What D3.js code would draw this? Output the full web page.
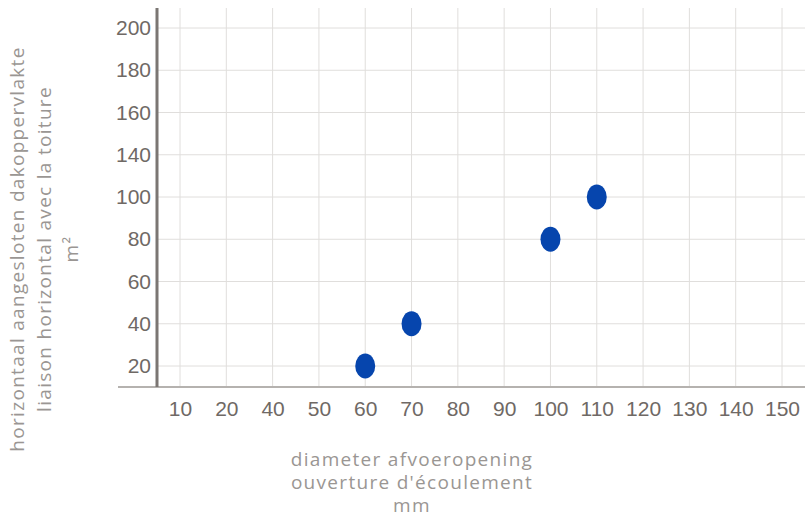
<!DOCTYPE html>
<html>
<head>
<meta charset="utf-8">
<script src="https://cdn.jsdelivr.net/npm/d3@7"></script>
<style>
  body { margin: 0; background: #fff; }
</style>
</head>
<body>
<div id="chart"></div>
<script>
// categories on both axes (the chart skips 30 and 120)
const xCategories = ['10', '20', '40', '50', '60', '70', '80', '90', '100', '110', '120', '130', '140', '150'];
const yCategories = ['20', '40', '60', '80', '100', '140', '160', '180', '200'];

// points: diameter (mm) -> surface (m²)
const diameters = ['60', '70', '100', '110'];
const surfaces = ['20', '40', '80', '100'];

const xTitle = ['diameter afvoeropening', "ouverture d'écoulement", 'mm'];
const yTitle = ['horizontaal aangesloten dakoppervlakte', 'liaison horizontal avec la toiture', 'm²'];

const width = 807, height = 519;
const plotLeft = 157, plotRight = 805, plotTop = 8, plotBottom = 387;

const svg = d3.select('#chart')
  .append('svg')
  .attr('width', width)
  .attr('height', height);

const x = d3.scalePoint()
  .domain(xCategories)
  .range([180, 782]);

const y = d3.scalePoint()
  .domain(yCategories)
  .range([366, 28]);

// gridlines
const grid = svg.append('g').attr('stroke', '#e0dedc').attr('stroke-width', 1);
grid.selectAll('.vgrid')
  .data(xCategories)
  .enter().append('line')
  .attr('x1', d => x(d)).attr('x2', d => x(d))
  .attr('y1', plotTop).attr('y2', plotBottom);
grid.selectAll('.hgrid')
  .data(yCategories)
  .enter().append('line')
  .attr('x1', plotLeft).attr('x2', plotRight)
  .attr('y1', d => y(d)).attr('y2', d => y(d));

// x axis
const xAxis = svg.append('g')
  .attr('transform', `translate(0, ${plotBottom})`)
  .call(d3.axisBottom(x).tickSize(0).tickPadding(14));
xAxis.select('.domain').remove();
xAxis.selectAll('text')
  .style('font-family', '"Liberation Sans", Arial, sans-serif')
  .style('font-size', '21px')
  .style('fill', '#6f6965');

svg.append('line')
  .attr('x1', 118).attr('x2', plotRight)
  .attr('y1', plotBottom).attr('y2', plotBottom)
  .attr('stroke', '#b5b2af').attr('stroke-width', 2);

// y axis
const yAxis = svg.append('g')
  .attr('transform', `translate(${plotLeft}, 0)`)
  .call(d3.axisLeft(y).tickSize(0).tickPadding(6));
yAxis.select('.domain').remove();
yAxis.selectAll('text')
  .style('font-family', '"Liberation Sans", Arial, sans-serif')
  .style('font-size', '21px')
  .style('fill', '#6f6965');

svg.append('line')
  .attr('x1', plotLeft).attr('x2', plotLeft)
  .attr('y1', plotTop).attr('y2', plotBottom)
  .attr('stroke', '#7b7673').attr('stroke-width', 3);

// points
svg.selectAll('.dot')
  .data(diameters.map((d, i) => ({ d: d, s: surfaces[i] })))
  .enter().append('ellipse')
  .attr('cx', p => x(p.d))
  .attr('cy', p => y(p.s))
  .attr('rx', 10)
  .attr('ry', 12.5)
  .style('fill', '#0645ad');

// axis titles
svg.append('text')
  .attr('x', 412)
  .attr('y', 466)
  .style('text-anchor', 'middle')
  .style('font-family', '"Open Sans", sans-serif')
  .style('font-size', '19px')
  .style('letter-spacing', '1.3px')
  .style('fill', '#9a9693')
  .selectAll('tspan')
  .data(xTitle)
  .enter().append('tspan')
  .attr('x', 412)
  .attr('dy', (d, i) => i === 0 ? 0 : 23)
  .text(d => d);

svg.append('text')
  .attr('transform', 'translate(24, 249) rotate(-90)')
  .style('text-anchor', 'middle')
  .style('font-family', '"Open Sans", sans-serif')
  .style('font-size', '19px')
  .style('letter-spacing', '1.3px')
  .style('fill', '#9a9693')
  .selectAll('tspan')
  .data(yTitle)
  .enter().append('tspan')
  .attr('x', 0)
  .attr('dy', (d, i) => i === 0 ? 0 : 27)
  .text(d => d);
</script>
</body>
</html>
